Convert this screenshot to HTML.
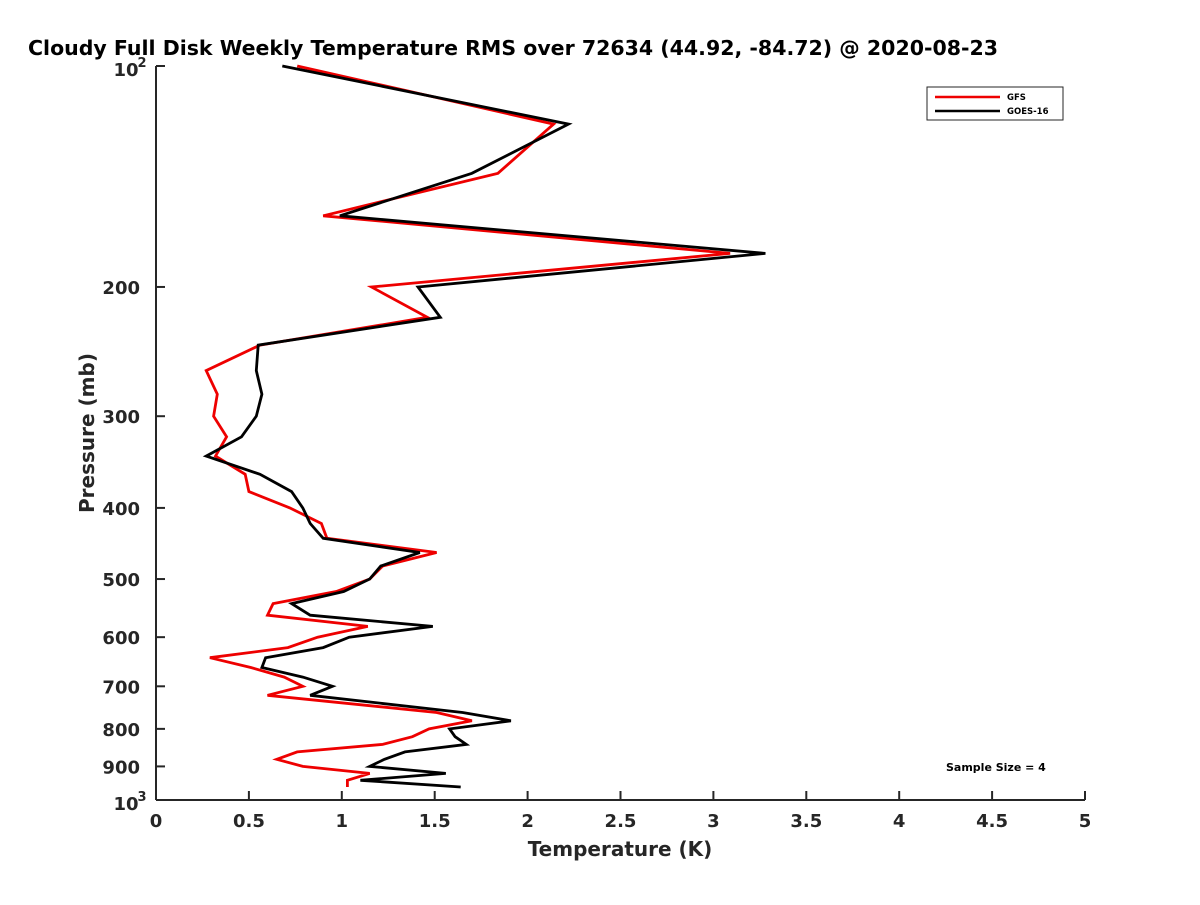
<!DOCTYPE html>
<html><head><meta charset="utf-8"><style>
body{margin:0;background:#fff}
svg text{font-family:"DejaVu Sans","Liberation Sans",sans-serif;font-weight:bold;fill:#262626}
</style></head><body>
<svg width="1200" height="900" viewBox="0 0 1200 900">
<rect width="1200" height="900" fill="#fff"/>
<text x="28" y="55" font-size="20.5" style="fill:#000">Cloudy Full Disk Weekly Temperature RMS over 72634 (44.92, -84.72) @ 2020-08-23</text>
<g id="axes"></g>
<g id="lines"></g>
<g>
<rect x="927" y="87" width="136" height="33" fill="#fff" stroke="#262626" stroke-width="1"/>
<line x1="935" y1="97" x2="1000" y2="97" stroke="#e00" stroke-width="2.5"/>
<text x="1007" y="100" font-size="8.5" style="fill:#000">GFS</text>
<line x1="935" y1="111" x2="1000" y2="111" stroke="#000" stroke-width="2.5"/>
<text x="1007" y="114" font-size="8.5" style="fill:#000">GOES-16</text>
</g>
<text x="946" y="771" font-size="11" style="fill:#000">Sample Size = 4</text>
<text x="620" y="856" font-size="20" text-anchor="middle">Temperature (K)</text>
<text transform="translate(94,433) rotate(-90)" font-size="20" text-anchor="middle">Pressure (mb)</text>
</svg>
<script>
const pressures=[100,120,140,160,180,200,220,240,260,280,300,320,340,360,380,400,420,440,460,480,500,520,540,560,580,600,620,640,660,680,700,720,760,780,800,820,840,860,880,900,920,940,960];
const gfsValues=[0.76,2.14,1.84,0.90,3.09,1.16,1.46,0.56,0.27,0.33,0.31,0.38,0.32,0.48,0.50,0.72,0.89,0.92,1.51,1.22,1.15,0.97,0.63,0.60,1.14,0.87,0.71,0.29,0.51,0.69,0.79,0.60,1.51,1.70,1.47,1.38,1.22,0.76,0.65,0.79,1.15,1.03,1.03];
const goesValues=[0.68,2.22,1.70,0.99,3.28,1.41,1.53,0.55,0.54,0.57,0.54,0.46,0.27,0.56,0.73,0.79,0.83,0.90,1.42,1.21,1.15,1.01,0.73,0.83,1.49,1.04,0.90,0.59,0.57,0.79,0.95,0.83,1.65,1.91,1.58,1.61,1.67,1.34,1.23,1.15,1.56,1.10,1.64];
const xTicks=[0,0.5,1,1.5,2,2.5,3,3.5,4,4.5,5];
const xTickLabels=["0","0.5","1","1.5","2","2.5","3","3.5","4","4.5","5"];
const yTicks=[200,300,400,500,600,700,800,900];
const yTickLabels=["200","300","400","500","600","700","800","900"];
const NS="http://www.w3.org/2000/svg";
const X0=156,X1=1085,Y0=66,Y1=800;
function xs(v){return X0+(v/5)*(X1-X0);}
function ys(p){return Y0+(Math.log10(p)-2)*(Y1-Y0);}
function mk(tag,attrs,parent){const e=document.createElementNS(NS,tag);for(const k in attrs)e.setAttribute(k,attrs[k]);parent.appendChild(e);return e;}
const ax=document.getElementById('axes');
const xl=mk('line',{x1:X0,y1:Y1,x2:X1,y2:Y1,stroke:'#262626','stroke-width':2},ax);


const yl=mk('line',{x1:X0,y1:Y0,x2:X0,y2:Y1,stroke:'#262626','stroke-width':2},ax);


xTicks.forEach((v,i)=>{
  mk('line',{x1:xs(v),y1:Y1,x2:xs(v),y2:Y1-9,stroke:'#262626','stroke-width':2},ax);
  const t=mk('text',{x:xs(v),y:Y1+27,'font-size':18,'text-anchor':'middle'},ax);
  t.textContent=xTickLabels[i];
  
  
});
yTicks.forEach((p,i)=>{
  mk('line',{x1:X0,y1:ys(p),x2:X0+9,y2:ys(p),stroke:'#262626','stroke-width':2},ax);
  const t=mk('text',{x:X0-16,y:ys(p)+7,'font-size':18,'text-anchor':'end'},ax);
  t.textContent=yTickLabels[i];
  
  
});
[[100,"2"],[1000,"3"]].forEach(([p,e])=>{
  mk('line',{x1:X0,y1:ys(p),x2:X0+9,y2:ys(p),stroke:'#262626','stroke-width':2},ax);
  const t=mk('text',{x:X0-30,y:ys(p)+10,'font-size':18,'text-anchor':'middle'},ax);
  t.textContent="10";
  
  
  const s=mk('text',{x:X0-14,y:ys(p)+1,'font-size':13,'text-anchor':'middle'},ax);
  s.textContent=e;
  
  
});
const lg=document.getElementById('lines');
function series(vals,color,name){
  const d=vals.map((v,i)=>(i?'L':'M')+xs(v).toFixed(1)+','+ys(pressures[i]).toFixed(1)).join('');
  const p=mk('path',{d:d,fill:'none',stroke:color,'stroke-width':2.8,'stroke-linejoin':'miter'},lg);
  
  
}
series(gfsValues,'#e00','gfs-line');
series(goesValues,'#000','goes16-line');
</script>
</body></html>
